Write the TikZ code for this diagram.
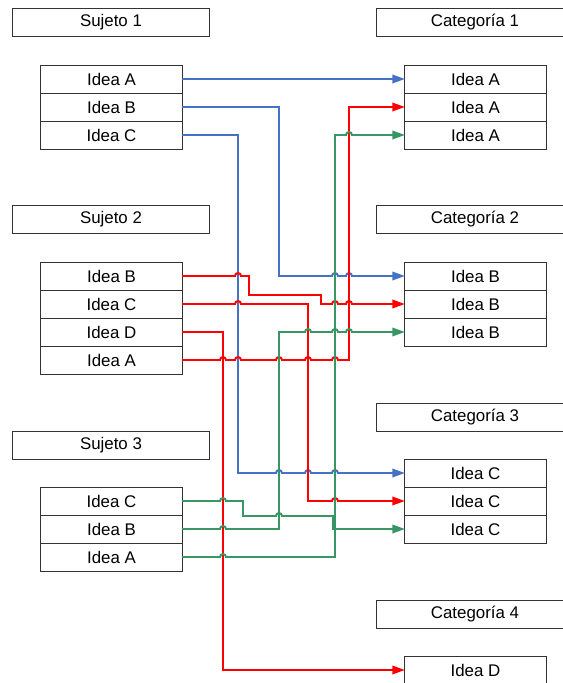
\documentclass[tikz,border=0pt]{standalone}
\usepackage{fontspec}
\setmainfont{Liberation Sans}
\usetikzlibrary{arrows.meta}
\definecolor{lnblue}{RGB}{68,114,196}
\definecolor{lnred}{RGB}{255,0,0}
\definecolor{lngreen}{RGB}{55,150,100}
\tikzset{
    headbox/.style={rectangle, draw=black!80, line width=0.7pt, minimum width=4.9cm, minimum height=0.7cm, inner sep=0pt, outer sep=0pt, font=\fontsize{12}{14}\selectfont},
    ideabox/.style={rectangle, draw=black!80, line width=0.7pt, minimum width=3.525cm, minimum height=0.7cm, inner sep=0pt, outer sep=0pt, font=\fontsize{12}{14}\selectfont},
    arrblue/.style={-{Triangle[length=9pt,width=6pt]}, line width=1.4pt, color=lnblue},
    arrred/.style={-{Triangle[length=9pt,width=6pt]}, line width=1.4pt, color=lnred},
    arrgreen/.style={-{Triangle[length=9pt,width=6pt]}, line width=1.4pt, color=lngreen},
    % small jump over a crossing line
    linehop/.style={insert path={arc[start angle=180, end angle=0, radius=2.13pt]}}
}
\begin{document}
\begin{tikzpicture}[x=0.025cm, y=-0.025cm]
        \useasboundingbox (0,0) rectangle (562,683);
        % === Sujetos ===
        \node[headbox] (s1) at (111,22) {Sujeto 1};
        \node[ideabox] (s1A) at (111.5,79) {Idea A};
        \node[ideabox] (s1B) at (111.5,107) {Idea B};
        \node[ideabox] (s1C) at (111.5,135) {Idea C};

        \node[headbox] (s2) at (111,219) {Sujeto 2};
        \node[ideabox] (s2B) at (111.5,276) {Idea B};
        \node[ideabox] (s2C) at (111.5,304) {Idea C};
        \node[ideabox] (s2D) at (111.5,332) {Idea D};
        \node[ideabox] (s2A) at (111.5,360) {Idea A};

        \node[headbox] (s3) at (111,445) {Sujeto 3};
        \node[ideabox] (s3C) at (111.5,501) {Idea C};
        \node[ideabox] (s3B) at (111.5,529) {Idea B};
        \node[ideabox] (s3A) at (111.5,557) {Idea A};

        % === Categorias ===
        \node[headbox] (c1) at (475,22) {Categoría 1};
        \node[ideabox] (c1r1) at (475.5,79) {Idea A};
        \node[ideabox] (c1r2) at (475.5,107) {Idea A};
        \node[ideabox] (c1r3) at (475.5,135) {Idea A};

        \node[headbox] (c2) at (475,219) {Categoría 2};
        \node[ideabox] (c2r1) at (475.5,276) {Idea B};
        \node[ideabox] (c2r2) at (475.5,304) {Idea B};
        \node[ideabox] (c2r3) at (475.5,332) {Idea B};

        \node[headbox] (c3) at (475,417) {Categoría 3};
        \node[ideabox] (c3r1) at (475.5,473) {Idea C};
        \node[ideabox] (c3r2) at (475.5,501) {Idea C};
        \node[ideabox] (c3r3) at (475.5,529) {Idea C};

        \node[headbox] (c4) at (475,614) {Categoría 4};
        \node[ideabox] (c4r1) at (475.5,670) {Idea D};

        % === Blue links ===
        \draw[arrblue] (s1A.east) -- (c1r1.west);
        \draw[arrblue] (s1B.east) -| (279,276) -- (332,276) [linehop] -- (346,276) [linehop] -- (c2r1.west);
        \draw[arrblue] (s1C.east) -| (238,473) -- (276,473) [linehop] -- (305,473) [linehop] -- (332,473) [linehop] -- (c3r1.west);

        % === Red links ===
        \draw[arrred] (s2B.east) -- (235,276) [linehop] -| (249,295) -| (321,304) -- (332,304) [linehop] -- (346,304) [linehop] -- (c2r2.west);
        \draw[arrred] (s2C.east) -- (235,304) [linehop] -| (308,501) -- (332,501) [linehop] -- (c3r2.west);
        \draw[arrred] (s2D.east) -| (223,670) -- (c4r1.west);
        \draw[arrred] (s2A.east) -- (220,360) [linehop] -- (235,360) [linehop] -- (276,360) [linehop] -- (305,360) [linehop] -- (332,360) [linehop] -| (349,107) -- (c1r2.west);

        % === Green links ===
        \draw[arrgreen] (s3C.east) -- (220,501) [linehop] -| (243,516) -- (276,516) [linehop] -| (333,529) -- (c3r3.west);
        \draw[arrgreen] (s3B.east) -- (220,529) [linehop] -| (279,332) -- (305,332) [linehop] -- (332,332) [linehop] -- (346,332) [linehop] -- (c2r3.west);
        \draw[arrgreen] (s3A.east) -- (220,557) [linehop] -| (335,135) -- (346,135) [linehop] -- (c1r3.west);
\end{tikzpicture}
\end{document}
